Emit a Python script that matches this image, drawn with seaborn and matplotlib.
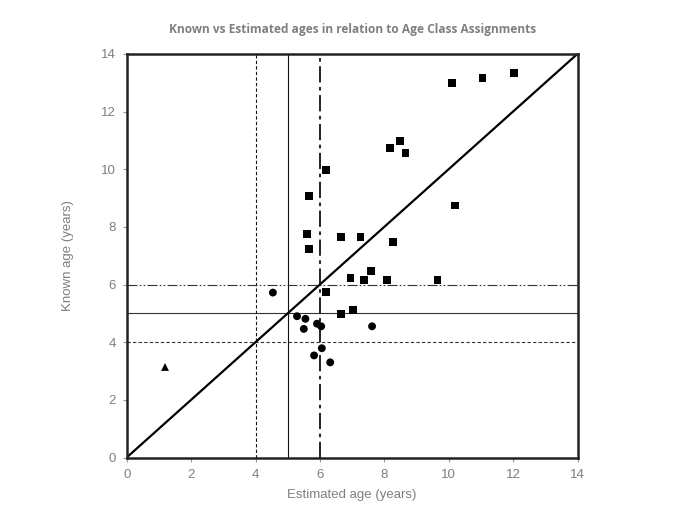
import numpy as np
import pandas as pd
import seaborn as sns
import matplotlib.pyplot as plt

# estimated vs known ages
sq_est = [10.10, 11.05, 12.04, 8.49, 8.19, 8.66, 6.18, 5.65, 10.20, 5.60, 5.65,
          6.66, 7.26, 8.28, 7.58, 6.95, 7.37, 8.08, 9.65, 6.18, 6.66, 7.04]
sq_known = [12.99, 13.15, 13.33, 10.99, 10.73, 10.56, 9.98, 9.07, 8.74, 7.74, 7.24,
            7.64, 7.64, 7.47, 6.48, 6.23, 6.15, 6.15, 6.15, 5.73, 4.98, 5.13]
circ_est = [4.54, 5.29, 5.55, 5.50, 5.91, 6.04, 7.62, 6.06, 5.82, 6.32]
circ_known = [5.72, 4.90, 4.81, 4.46, 4.64, 4.55, 4.55, 3.79, 3.54, 3.30]
tri_est = [1.19]
tri_known = [3.14]

class_bounds = [4, 5, 6]
ticks = [0, 2, 4, 6, 8, 10, 12, 14]

df = pd.DataFrame({
    'est': sq_est + circ_est + tri_est,
    'known': sq_known + circ_known + tri_known,
    'grp': ['sq'] * len(sq_est) + ['circ'] * len(circ_est) + ['tri'] * len(tri_est),
})

sns.set_style('white')
plt.rcParams['font.family'] = ['Liberation Sans', 'DejaVu Sans']

fig = plt.figure(figsize=(7, 5.08), dpi=100)
ax = fig.add_axes([0.181, 0.0994, 0.644, 0.7946])

# class boundary lines
styles = [(0, (3, 2)), '-', (0, (9, 2.5, 2, 2.5))]
hstyles = [(0, (3, 2)), '-', (0, (9, 2, 1.5, 2, 1.5, 2))]
vw = [0.8, 0.8, 1.3]
for b, ls, hls, w in zip(class_bounds, styles, hstyles, vw):
    ax.axvline(b, color='#111111', ls=ls, lw=w, zorder=1)
    ax.axhline(b, color='#333333', ls=hls, lw=0.8, zorder=1)

# 1:1 line
ax.plot([0, 14], [0, 14], color='black', lw=1.6, zorder=2)

sns.scatterplot(data=df, x='est', y='known', style='grp',
                markers={'sq': 's', 'circ': 'o', 'tri': '^'},
                color='black', s=32, edgecolor='black', linewidth=0,
                legend=False, ax=ax, zorder=3)

ax.set_xlim(0, 14)
ax.set_ylim(0, 14)
ax.set_xticks(ticks)
ax.set_yticks(ticks)
ax.tick_params(axis='both', which='both', direction='out', length=3, width=0.8,
               color='#999999', labelcolor='#7f7f7f', labelsize=9.5, pad=5,
               bottom=True, left=True)
for sp in ax.spines.values():
    sp.set_color('#222222')
    sp.set_linewidth(1.8)

ax.set_xlabel('Estimated age (years)', color='#7f7f7f', fontsize=9.5, labelpad=6)
ax.set_ylabel('Known age (years)', color='#7f7f7f', fontsize=9.5, labelpad=19)
fig.text(0.504, 0.941, 'Known vs Estimated ages in relation to Age Class Assignments',
         ha='center', va='center', color='#7f7f7f', fontsize=8.6, fontweight='bold',
         family=['Open Sans', 'DejaVu Sans'])

fig.savefig('out.png', dpi=100, facecolor='white')
